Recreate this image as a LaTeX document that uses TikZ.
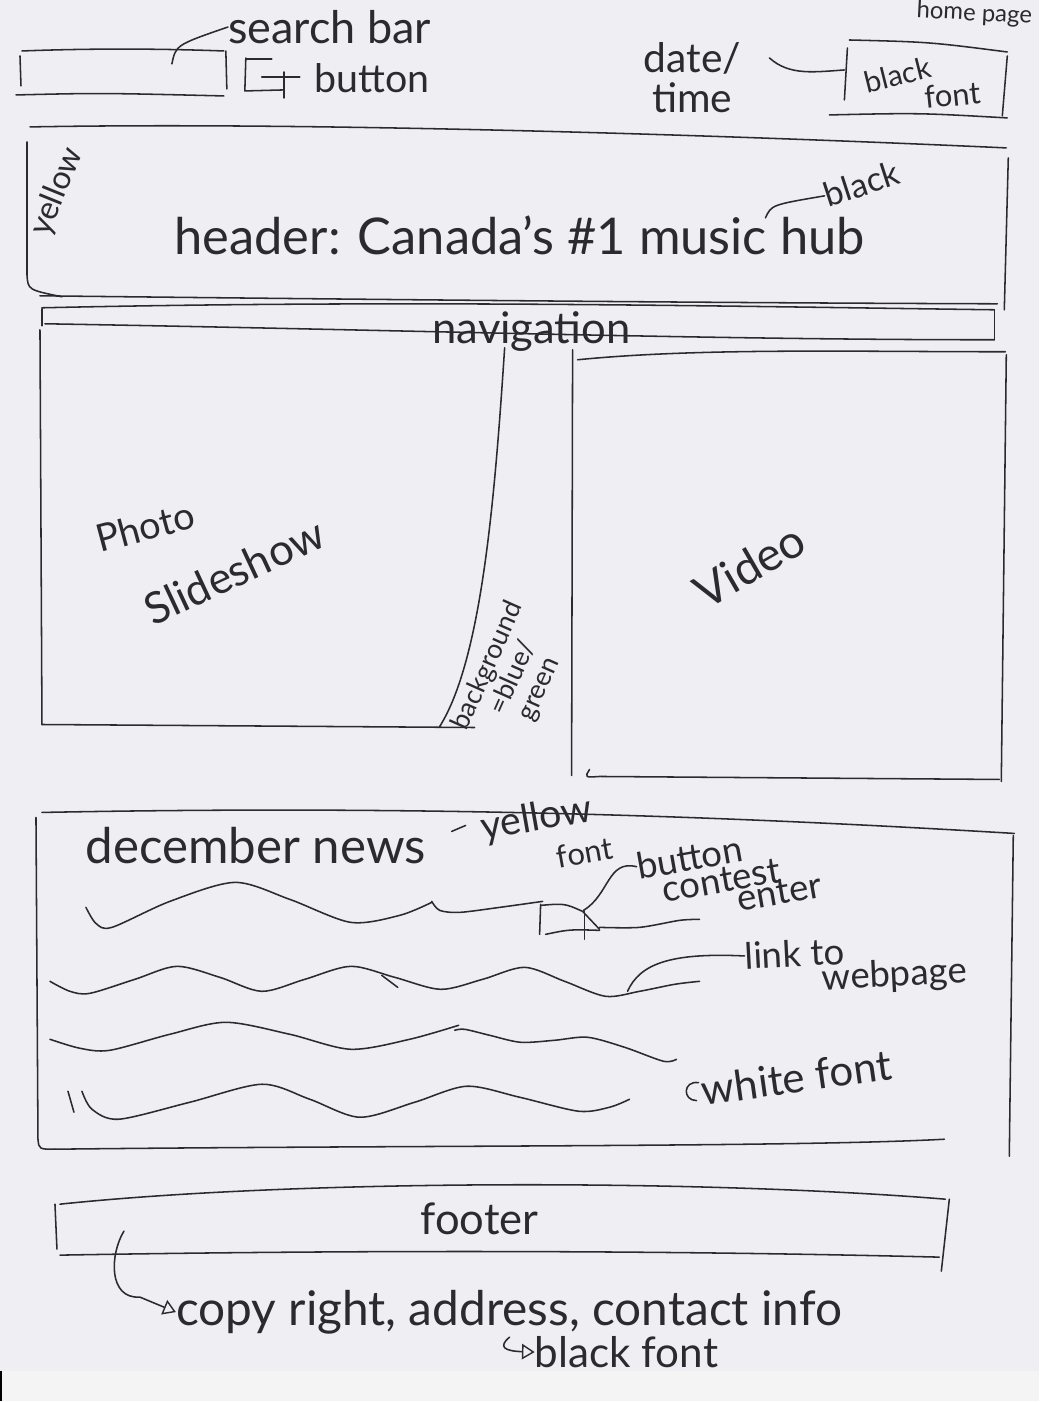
\documentclass[tikz,border=0pt]{standalone}
\usepackage{fontspec}
\setmainfont{Lato}
\usetikzlibrary{arrows.meta}
\definecolor{paper}{HTML}{EFEFF3}
\definecolor{strip}{HTML}{F4F4F4}
\definecolor{ink}{HTML}{2B2B2E}
\tikzset{
  pen/.style={draw=ink, line width=1.1pt, line cap=round, line join=round},
  hand/.style={text=ink, inner sep=0pt, font=\fontsize{#1}{1.05\dimexpr#1\relax}\selectfont},
  opentip/.style={-{Triangle[open, length=9pt, width=11pt, line width=1pt]}},
}
\begin{document}
\begin{tikzpicture}[x=0.025cm,y=-0.025cm]
% sheet and scanner strip
\fill[strip] (0,0) rectangle (1040,1402);
\fill[paper] (0,0) rectangle (1040,1372);
\draw[black, line width=1.4pt] (1,1372) -- (1,1402);
\useasboundingbox (0,0) rectangle (1040,1402);

% ---------- top bar ----------
% search field
\draw[pen] (22,51) .. controls (100,48) and (170,49) .. (224,51);
\draw[pen] (20,56) -- (21,86);
\draw[pen] (226,51) -- (227,89);
\draw[pen] (16,95) .. controls (100,93) .. (224,96);
\coordinate (sbar) at (172,64);
\node[hand=32pt] (searchlbl) at (330,27) {search bar};
\draw[pen] (sbar) .. controls (176,45) .. (searchlbl.west);
% search button
\draw[pen] (246,58) -- (245,91) -- (283,90);
\draw[pen] (246,59) -- (272,59);
\draw[pen] (262,77) -- (300,77);
\draw[pen] (284,72) -- (284,98);
\node[hand=28pt] (btnlbl) at (372,78) {button};

% date / time
\node[hand=29pt, align=left] (datelbl) at (693,78) {date/\\[-2pt]\hspace*{6pt}time};
\draw[pen] (770,58) .. controls (790,76) and (815,72) .. (845,70);
\draw[pen] (848,48) -- (845,100);
\draw[pen] (850,40) .. controls (930,42) .. (1008,52);
\draw[pen] (1008,56) -- (1003,116);
\draw[pen] (830,115) .. controls (920,113) .. (1008,118);
\node[hand=21pt, rotate=14] (blk1) at (898,75) {black};
\node[hand=22pt, rotate=6] (fnt1) at (953,95) {font};
\node[hand=17pt, rotate=-3] (homelbl) at (975,14) {home page};

% ---------- header ----------
\draw[pen] (30,127) .. controls (300,122) and (700,134) .. (1007,148);
\draw[pen] (27,142) -- (27,275) .. controls (28,290) .. (62,297);
\draw[pen] (40,296) .. controls (400,300) and (700,303) .. (998,304);
\draw[pen] (1009,158) -- (1005,310);
\node[hand=23pt, rotate=68] (yellowlbl) at (57,192) {yellow};
\node[hand=36pt] (headerlbl) at (520,236) {header: Canada's \#1 music hub};
\node[hand=24pt, rotate=18] (blacklbl) at (862,184) {black};
\draw[pen] (766,218) .. controls (772,205) .. (blacklbl.west);

% ---------- navigation ----------
\draw[pen] (42,308) .. controls (400,300) and (700,306) .. (995,310);
\draw[pen] (42,309) -- (42,326);
\draw[pen] (45,324) .. controls (400,330) and (700,340) .. (995,340);
\draw[pen] (995,310) -- (995,340);
\node[hand=31pt] (navlbl) at (532,332) {navigation};

% ---------- photo slideshow ----------
\draw[pen] (40,330) -- (42,725);
\draw[pen] (42,725) -- (475,728);
\draw[pen] (505,348) .. controls (495,500) and (482,660) .. (440,727);
\node[hand=27pt, rotate=15] (photolbl) at (145,527) {Photo};
\node[hand=31pt, rotate=25] (slidelbl) at (234,572) {Slideshow};
\node[hand=19pt, rotate=66, align=center] (bglbl) at (514,678) {background\\=blue/\\green};

% ---------- video ----------
\draw[pen] (573,350) -- (572,776);
\draw[pen] (578,360) .. controls (700,348) and (850,352) .. (1006,352);
\draw[pen] (1007,355) -- (1002,782);
\draw[pen] (590,770) .. controls (585,778) .. (600,777) -- (1000,780);
\node[hand=33pt, rotate=30] (videolbl) at (750,566) {Video};

% ---------- december news ----------
\draw[pen] (42,813) .. controls (400,806) and (700,815) .. (1015,834);
\draw[pen] (36,818) -- (38,1140) .. controls (39,1150) .. (55,1150);
\draw[pen] (55,1150) .. controls (400,1146) and (800,1148) .. (945,1140);
\draw[pen] (1014,836) -- (1010,1157);
\node[hand=35pt] (newslbl) at (256,846) {december news};
\node[hand=28pt, rotate=10] (ylw2) at (537,820) {yellow};
\draw[pen] (452,832) -- (466,826);
\node[hand=22pt, rotate=10] (fnt2) at (585,853) {font};
\node[hand=26pt, rotate=10] (btn2) at (690,858) {button};
\node[hand=26pt, rotate=10] (contestlbl) at (722,881) {contest};
\node[hand=26pt, rotate=10] (enterlbl) at (780,893) {enter};
% contest button
\draw[pen] (541,905) -- (540,935);
\draw[pen] (541,906) .. controls (565,904) .. (583,912) -- (600,930);
\draw[pen] (546,935) .. controls (570,930) .. (600,931);
\draw[pen] (585,912) -- (585,940);
\coordinate (cbtn) at (584,911);
\draw[pen] (cbtn) .. controls (610,895) and (608,860) .. (btn2.west);

% body text placeholders (scribbled lines)
\draw[pen] plot[smooth] coordinates {(86,908) (96,924) (112,928) (170,902) (235,883) (290,900) (351,923) (400,916) (432,903)};
\draw[pen] plot[smooth] coordinates {(432,902) (440,911) (460,913) (500,908) (543,902)};
\draw[pen] plot[smooth] coordinates {(600,928) (640,928) (680,921) (700,920)};
\draw[pen] plot[smooth] coordinates {(50,982) (70,992) (90,994) (135,980) (177,967) (220,978) (262,992) (305,980) (351,967) (395,978) (441,990) (483,980) (525,968) (565,982) (606,997) (640,992) (675,985) (700,982)};
\draw[pen] (382,976) -- (398,988);
\draw[pen] plot[smooth] coordinates {(50,1040) (80,1049) (110,1051) (170,1035) (226,1023) (290,1035) (351,1050) (410,1040) (459,1026)};
\draw[pen] plot[smooth] coordinates {(455,1031) (465,1030) (490,1036) (521,1043) (555,1041) (588,1038) (625,1048) (664,1062) (677,1060)};
\draw[pen] plot[smooth] coordinates {(82,1092) (92,1110) (119,1120) (190,1103) (262,1085) (310,1100) (360,1118) (415,1103) (467,1087) (520,1098) (579,1112) (610,1108) (630,1100)};
\draw[pen] (68,1092) -- (74,1113);

\node[hand=26pt, rotate=3] (linklbl) at (795,954) {link to};
\node[hand=26pt, rotate=3] (weblbl) at (895,977) {webpage};
\coordinate (wave2end) at (628,992);
\draw[pen] (wave2end) .. controls (640,965) and (670,953) .. (linklbl.west);
\node[hand=30pt, rotate=8] (whitelbl) at (797,1078) {white font};
\draw[pen] (whitelbl.west) ++(-3,-8) .. controls ++(-16,-2) and ++(-14,0) .. ++(-2,18);

% ---------- footer ----------
\draw[pen] (60,1205) .. controls (300,1180) and (700,1180) .. (946,1200);
\draw[pen] (55,1205) -- (57,1250);
\draw[pen] (60,1256) .. controls (400,1250) and (700,1252) .. (940,1258);
\draw[pen] (950,1200) -- (942,1272);
\node[hand=31pt] (footerlbl) at (480,1220) {footer};
\coordinate (footerhook) at (124,1232);
\node[hand=34pt, anchor=west] (infolbl) at (176,1313) {copy right, address, contact info};
\draw[pen, opentip] (footerhook) .. controls (110,1255) and (108,1300) .. (140,1298) -- (infolbl.west);
\node[hand=30pt, anchor=west] (blk3) at (535,1353) {black font};
\draw[pen, opentip] (510,1338) .. controls (498,1348) and (505,1352) .. (blk3.west);

\end{tikzpicture}
\end{document}
